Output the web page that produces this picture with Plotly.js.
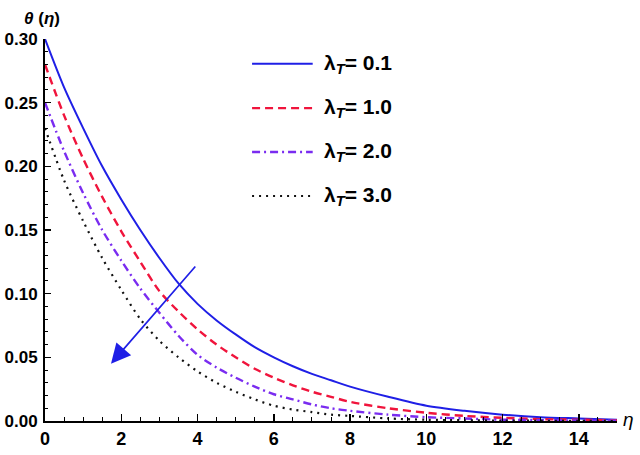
<!DOCTYPE html>
<html>
<head>
<meta charset="utf-8">
<script src="https://cdn.plot.ly/plotly-3.0.1.min.js"></script>
<style>
  html, body { margin: 0; padding: 0; background: #fff; }
  #chart { width: 640px; height: 455px; }
</style>
</head>
<body>
<div id="chart"></div>
<script>
// eta values and theta(eta)
const eta = [0, 0.5, 1, 1.5, 2, 2.5, 3, 3.5, 4, 4.5, 5, 5.5, 6, 6.5, 7, 7.5, 8,
             9, 10, 11, 12, 13, 14, 15];

const theta01 = [0.300, 0.262, 0.230, 0.200, 0.174, 0.150, 0.128, 0.108, 0.092, 0.079,
                 0.068, 0.058, 0.050, 0.043, 0.037, 0.032, 0.027,
                 0.019, 0.012, 0.008, 0.005, 0.003, 0.002, 0.001];
const theta10 = [0.280, 0.240, 0.206, 0.176, 0.149, 0.125, 0.102, 0.086, 0.072, 0.060,
                 0.050, 0.041, 0.034, 0.028, 0.023, 0.019, 0.015,
                 0.010, 0.0065, 0.004, 0.0025, 0.0015, 0.001, 0.0005];
const theta20 = [0.250, 0.212, 0.179, 0.150, 0.126, 0.104, 0.085, 0.067, 0.052, 0.042,
                 0.034, 0.027, 0.021, 0.017, 0.013, 0.010, 0.008,
                 0.005, 0.003, 0.002, 0.001, 0.0007, 0.0004, 0.0002];
const theta30 = [0.230, 0.189, 0.157, 0.128, 0.103, 0.080, 0.063, 0.050, 0.039, 0.030,
                 0.023, 0.017, 0.012, 0.009, 0.007, 0.005, 0.004,
                 0.002, 0.001, 0.0006, 0.0003, 0.0002, 0.0001, 0.0];

const labels = ['0.1', '1.0', '2.0', '3.0'];
const series = [theta01, theta10, theta20, theta30];
const colors = ['#1f1fe6', '#f0143c', '#7a2cf0', '#111111'];
const dashes = ['solid', '8px,5px', '8px,4px,2px,4px', '2px,5px'];
const widths = [2, 2.4, 2.4, 2.2];

const font = 'Liberation Sans, Arial, sans-serif';

const traces = series.map((ys, i) => ({
  x: eta,
  y: ys,
  type: 'scatter',
  mode: 'lines',
  line: { color: colors[i], dash: dashes[i], width: widths[i], shape: 'spline', smoothing: 0.8 },
  name: 'λT= ' + labels[i],
  showlegend: false
}));

// hand-made legend, placed like the original
const legendY = [0.935, 0.819, 0.704, 0.589];
const shapes = [];
const annotations = [];
labels.forEach((lab, i) => {
  shapes.push({
    type: 'line', xref: 'paper', yref: 'paper',
    x0: 0.362, x1: 0.468, y0: legendY[i], y1: legendY[i],
    line: { color: colors[i], dash: dashes[i], width: widths[i] }
  });
  annotations.push({
    xref: 'paper', yref: 'paper', x: 0.484, y: legendY[i],
    xanchor: 'left', yanchor: 'middle', showarrow: false,
    text: '<b>λ<sub><i>T</i></sub>= ' + lab + '</b>',
    font: { family: font, size: 21, color: '#000' }
  });
});

// arrow showing the trend
annotations.push({
  x: 1.73, y: 0.045, ax: 4.02, ay: 0.124,
  xref: 'x', yref: 'y', axref: 'x', ayref: 'y',
  showarrow: true, arrowhead: 2, arrowsize: 2.3, arrowwidth: 1.7,
  arrowcolor: '#1f1fe6', text: ' '
});

// axis labels
annotations.push({
  xref: 'paper', yref: 'paper', x: 0, y: 1.0, yshift: 21, xshift: -3,
  xanchor: 'center', yanchor: 'middle', showarrow: false,
  text: '<b><i>θ</i> (<i>η</i>)</b>',
  font: { family: font, size: 17, color: '#000' }
});
annotations.push({
  xref: 'paper', yref: 'paper', x: 1.0, y: 0, xshift: 4, yshift: 2,
  xanchor: 'left', yanchor: 'middle', showarrow: false,
  text: '<i>η</i>',
  font: { family: font, size: 19, color: '#000' }
});

const layout = {
  width: 640,
  height: 455,
  margin: { l: 45, r: 23, t: 39, b: 34 },
  paper_bgcolor: '#fff',
  plot_bgcolor: '#fff',
  font: { family: font, color: '#000' },
  xaxis: {
    range: [0, 15],
    dtick: 2,
    tick0: 0,
    showgrid: false,
    zeroline: false,
    showline: true,
    linecolor: '#000',
    linewidth: 2,
    ticks: 'inside',
    ticklen: 7,
    tickwidth: 1.5,
    tickcolor: '#000',
    tickfont: { family: font, size: 18, color: '#000', weight: 'bold' },
    minor: { dtick: 0.5, ticks: 'inside', ticklen: 4, tickwidth: 1, tickcolor: '#000' }
  },
  yaxis: {
    range: [0, 0.30],
    dtick: 0.05,
    tick0: 0,
    tickformat: '.2f',
    showgrid: false,
    zeroline: false,
    showline: true,
    linecolor: '#000',
    linewidth: 2,
    ticks: 'inside',
    ticklen: 6,
    tickwidth: 1.5,
    tickcolor: '#000',
    ticklabelstandoff: 2,
    tickfont: { family: font, size: 17, color: '#000', weight: 'bold' },
    minor: { dtick: 0.01, ticks: 'inside', ticklen: 3, tickwidth: 1, tickcolor: '#000' }
  },
  shapes: shapes,
  annotations: annotations
};

Plotly.newPlot('chart', traces, layout, { displayModeBar: false, staticPlot: true });
</script>
</body>
</html>
